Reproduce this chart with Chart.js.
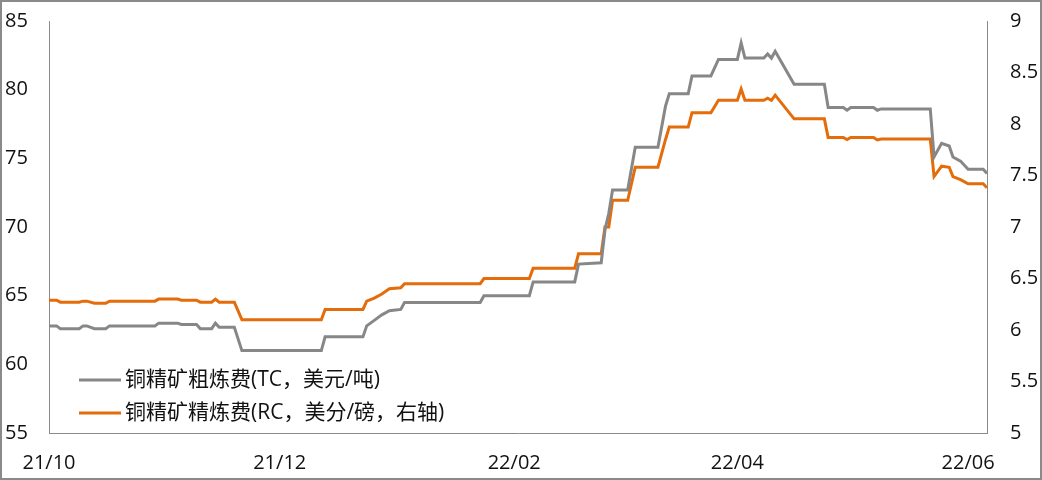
<!DOCTYPE html>
<html>
<head>
<meta charset="utf-8">
<script src="https://cdn.jsdelivr.net/npm/chart.js@4.4.1/dist/chart.umd.min.js"></script>
<style>
html,body{margin:0;padding:0;background:#fff;}
#wrap{width:1042px;height:480px;position:relative;}
</style>
</head>
<body>
<div id="wrap"><canvas id="c" width="1042" height="480"></canvas></div>
<script>
const dates = ['2021-10-01','2021-10-03','2021-10-04','2021-10-09','2021-10-10','2021-10-11','2021-10-13','2021-10-16','2021-10-17','2021-10-29','2021-10-30','2021-11-04','2021-11-05','2021-11-09','2021-11-10','2021-11-13','2021-11-14','2021-11-15','2021-11-19','2021-11-21','2021-12-12','2021-12-13','2021-12-23','2021-12-24','2021-12-26','2021-12-28','2021-12-30','2022-01-02','2022-01-03','2022-01-23','2022-01-24','2022-02-05','2022-02-06','2022-02-17','2022-02-18','2022-02-24','2022-02-25','2022-02-26','2022-02-27','2022-03-03','2022-03-05','2022-03-11','2022-03-13','2022-03-14','2022-03-19','2022-03-20','2022-03-25','2022-03-27','2022-04-01','2022-04-02','2022-04-03','2022-04-08','2022-04-09','2022-04-10','2022-04-11','2022-04-16','2022-04-24','2022-04-25','2022-04-29','2022-04-30','2022-05-01','2022-05-07','2022-05-08','2022-05-09','2022-05-22','2022-05-23','2022-05-25','2022-05-27','2022-05-28','2022-05-30','2022-06-01','2022-06-05','2022-06-06'];
const tcValues = [62.8,62.8,62.6,62.6,62.8,62.8,62.6,62.6,62.8,62.8,63.0,63.0,62.9,62.9,62.6,62.6,63.0,62.7,62.7,61.0,61.0,62.0,62.0,62.8,63.2,63.6,63.9,64.0,64.5,64.5,65.0,65.0,66.0,66.0,67.3,67.4,69.8,71.0,72.7,72.7,75.8,75.8,78.8,79.7,79.7,81.0,81.0,82.2,82.2,83.4,82.3,82.3,82.6,82.3,82.8,80.4,80.4,78.7,78.7,78.5,78.7,78.7,78.5,78.6,78.6,75.1,76.1,75.9,75.1,74.8,74.2,74.2,73.9];
const rcValues = [6.29,6.29,6.27,6.27,6.28,6.28,6.26,6.26,6.28,6.28,6.30,6.30,6.29,6.29,6.27,6.27,6.30,6.27,6.27,6.10,6.10,6.20,6.20,6.28,6.31,6.35,6.40,6.41,6.45,6.45,6.50,6.50,6.60,6.60,6.74,6.74,7.00,7.00,7.26,7.26,7.58,7.58,7.85,7.97,7.97,8.11,8.11,8.23,8.23,8.34,8.23,8.23,8.25,8.23,8.28,8.05,8.05,7.87,7.87,7.85,7.87,7.87,7.845,7.855,7.855,7.49,7.59,7.58,7.49,7.46,7.42,7.42,7.38];
const tickDates = ['2021-10-01','2021-12-01','2022-02-01','2022-04-01','2022-06-01'];
const tickLabels = ['21/10','21/12','22/02','22/04','22/06'];
const seriesNames = ['铜精矿粗炼费(TC，美元/吨)','铜精矿精炼费(RC，美分/磅，右轴)'];
const seriesColors = ['#878787','#E46C0A'];

const origin = Date.parse(dates[0]);
const dayOf = s => (Date.parse(s) - origin) / 86400000;
const tcData = dates.map((d,i) => ({x: dayOf(d), y: tcValues[i]}));
const rcData = dates.map((d,i) => ({x: dayOf(d), y: rcValues[i]}));
const tickDays = tickDates.map(dayOf);
const lastDay = dayOf(dates[dates.length-1]);

const FONT = "'Open Sans','Noto Sans CJK SC',sans-serif";

const frame = {
  id:'frame',
  afterDraw(chart){
    const ctx = chart.ctx;
    ctx.save();
    ctx.strokeStyle = '#8a8a8a';
    ctx.lineWidth = 2;
    ctx.strokeRect(1,1,chart.width-2,chart.height-2);
    const ys = [380, 413];
    chart.data.datasets.forEach((ds, i) => {
      ctx.strokeStyle = ds.borderColor;
      ctx.lineWidth = 3;
      ctx.beginPath();
      ctx.moveTo(79, ys[i]);
      ctx.lineTo(121, ys[i]);
      ctx.stroke();
      ctx.fillStyle = '#111';
      ctx.font = "21px " + FONT;
      ctx.textBaseline = 'middle';
      ctx.textAlign = 'left';
      ctx.fillText(ds.label, 125, ys[i]);
    });
    ctx.restore();
  }
};

function noPad(s){ s.paddingTop = 0; s.paddingBottom = 0; }

new Chart(document.getElementById('c'), {
  type: 'line',
  data: {
    datasets: [
      {label: seriesNames[0], data: tcData, borderColor: seriesColors[0], borderWidth: 3, pointRadius: 0, tension: 0, yAxisID: 'y'},
      {label: seriesNames[1], data: rcData, borderColor: seriesColors[1], borderWidth: 3, pointRadius: 0, tension: 0, yAxisID: 'y2'}
    ]
  },
  options: {
    responsive: false,
    animation: false,
    events: [],
    layout: {padding: {left: 5, top: 21, right: 0, bottom: 0}},
    plugins: {legend: {display: false}, tooltip: {enabled: false}},
    scales: {
      x: {
        type: 'linear',
        min: 0,
        max: lastDay,
        grid: {display: false},
        border: {display: true, color: '#8a8a8a', width: 1},
        afterBuildTicks(s){ s.ticks = tickDays.map(v => ({value: v})); },
        afterFit(s){ s.height = 47; },
        ticks: {
          autoSkip: false, maxRotation: 0, padding: 10,
          color: '#111', font: {family: FONT, size: 20},
          callback(v){ const i = tickDays.indexOf(v); return i >= 0 ? tickLabels[i] : ''; }
        }
      },
      y: {
        position: 'left',
        min: 55, max: 85,
        grid: {display: false},
        border: {display: true, color: '#8a8a8a', width: 1},
        afterFit(s){ s.width = 44; noPad(s); },
        ticks: {stepSize: 5, crossAlign: 'far', padding: 6, color: '#111', font: {family: FONT, size: 20}}
      },
      y2: {
        position: 'right',
        min: 5, max: 9,
        grid: {display: false},
        border: {display: true, color: '#8a8a8a', width: 1},
        afterFit(s){ s.width = 55; noPad(s); },
        ticks: {stepSize: 0.5, crossAlign: 'near', padding: 15, color: '#111', font: {family: FONT, size: 20},
          callback(v){ return String(Math.round(v * 10) / 10); }}
      }
    }
  },
  plugins: [frame]
});
</script>
</body>
</html>
